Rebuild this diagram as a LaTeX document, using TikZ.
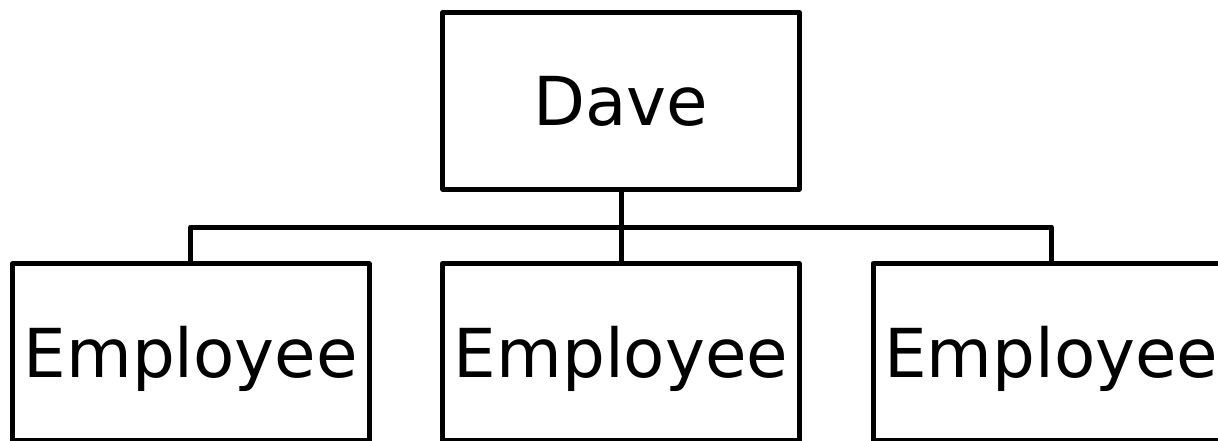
\documentclass[tikz,border=0pt]{standalone}
\usepackage{fontspec}
\setmainfont{DejaVu Sans}
\begin{document}
\begin{tikzpicture}[x=1pt,y=-1pt,
  box/.style={draw=black,line width=5pt,line join=round,rectangle,inner sep=0pt,
    minimum width=356.5pt,minimum height=176.5pt,text height=50pt,text depth=0pt,
    font=\fontsize{67.5}{80}\selectfont},
  link/.style={draw=black,line width=5pt,line join=round}]
\useasboundingbox (0,0) rectangle (1218,441);
\node[box] (dave) at (621,100.75) {Dave};
\node[box] (e1) at (190.75,352) {Employee};
\node[box] (e2) at (621,352) {Employee};
\node[box] (e3) at (1051.25,352) {Employee};
\coordinate (bus) at (0,227);
\draw[link] (dave.south) -- (e2.north);
\draw[link] (e1.north) -- (e1.north |- bus) -- (e3.north |- bus) -- (e3.north);
\end{tikzpicture}
\end{document}
